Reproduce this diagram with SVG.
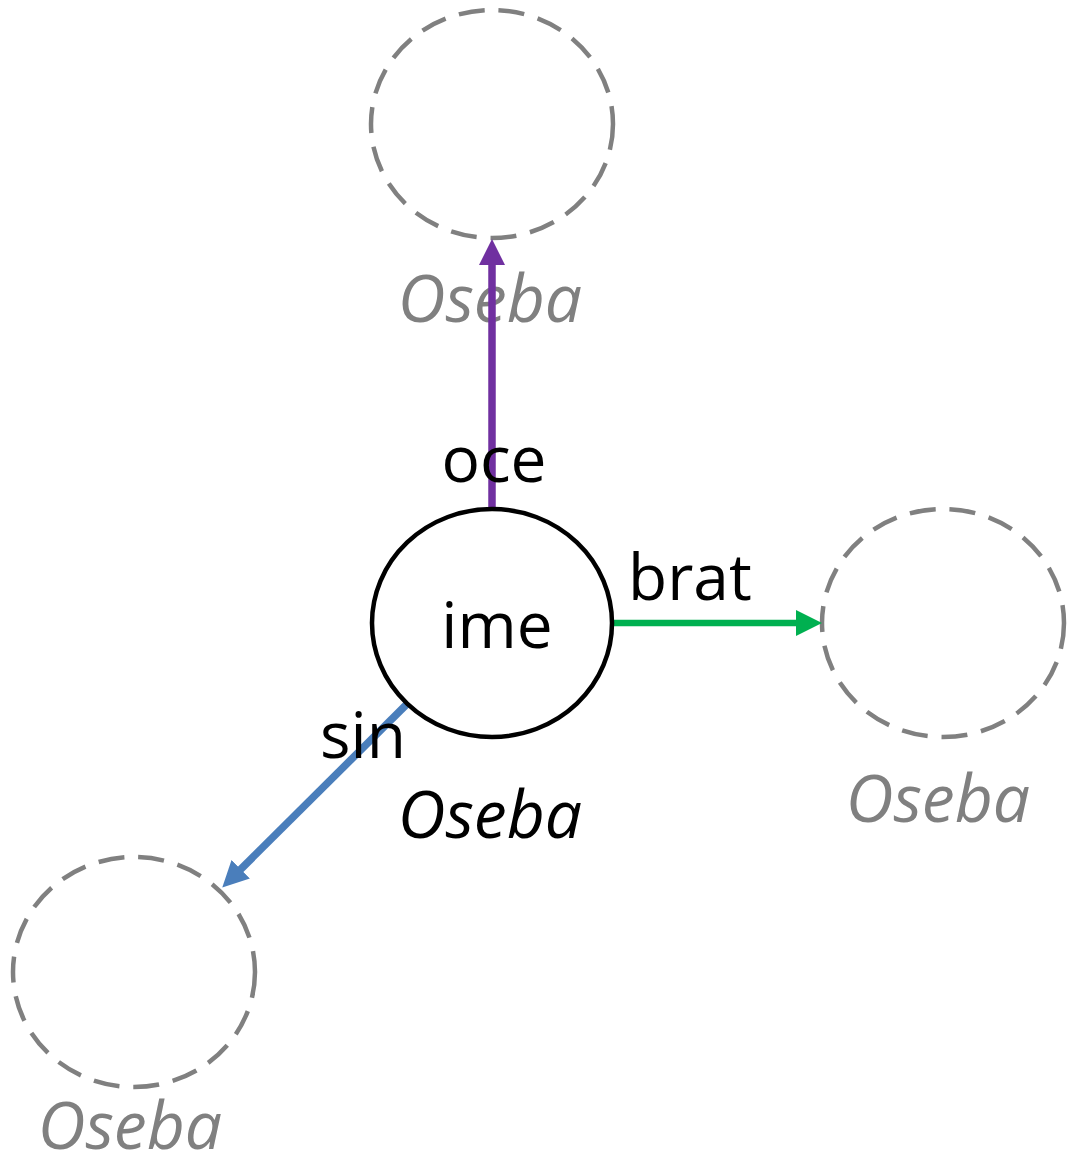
<svg xmlns="http://www.w3.org/2000/svg" width="1072" height="1167" viewBox="0 0 1072 1167">
<style>
.lbl{font-family:"Open Sans","Noto Sans","Liberation Sans",sans-serif;font-size:64px;fill:#000}
.cls{font-family:"Open Sans","Noto Sans","Liberation Sans",sans-serif;font-size:66px;font-style:italic;text-anchor:middle}
.ghost{fill:none;stroke:#808080;stroke-width:4.5;stroke-dasharray:26 14}
.main{fill:#fff;stroke:#000;stroke-width:4.5}
</style>
<defs>
<marker id="mP" markerUnits="userSpaceOnUse" viewBox="0 0 26 26" markerWidth="26" markerHeight="26" refX="1" refY="13" orient="auto"><path d="M0,0 L26,13 L0,26 z" fill="#7030A0"/></marker>
<marker id="mG" markerUnits="userSpaceOnUse" viewBox="0 0 26 26" markerWidth="26" markerHeight="26" refX="1" refY="13" orient="auto"><path d="M0,0 L26,13 L0,26 z" fill="#00B050"/></marker>
<marker id="mB" markerUnits="userSpaceOnUse" viewBox="0 0 26 26" markerWidth="26" markerHeight="26" refX="1" refY="13" orient="auto"><path d="M0,0 L26,13 L0,26 z" fill="#4A7EBB"/></marker>
</defs>
<g id="node-top">
<ellipse class="ghost" cx="492" cy="124" rx="121" ry="114"/>
<text class="cls" x="490" y="322" fill="#808080">Oseba</text>
</g>
<g id="node-right">
<ellipse class="ghost" cx="943" cy="623" rx="121" ry="114"/>
<text class="cls" x="938" y="822" fill="#808080">Oseba</text>
</g>
<g id="node-left">
<ellipse class="ghost" cx="134" cy="972" rx="121" ry="115"/>
<text class="cls" x="130" y="1149" fill="#808080">Oseba</text>
</g>
<g id="connectors">
<line x1="492" y1="509" x2="492" y2="264" stroke="#7030A0" stroke-width="7.5" marker-end="url(#mP)"/>
<line x1="612" y1="623" x2="797" y2="623" stroke="#00B050" stroke-width="6.5" marker-end="url(#mG)"/>
<line x1="407" y1="704" x2="240" y2="870" stroke="#4A7EBB" stroke-width="7.5" marker-end="url(#mB)"/>
<text class="lbl" x="494" y="482" text-anchor="middle">oce</text>
<text class="lbl" x="628" y="600">brat</text>
<text class="lbl" x="320" y="758">sin</text>
</g>
<g id="node-main">
<ellipse class="main" cx="492" cy="623" rx="120" ry="114"/>
<text class="lbl" x="497" y="648" text-anchor="middle">ime</text>
<text class="cls" x="490" y="838" fill="#000">Oseba</text>
</g>
</svg>
